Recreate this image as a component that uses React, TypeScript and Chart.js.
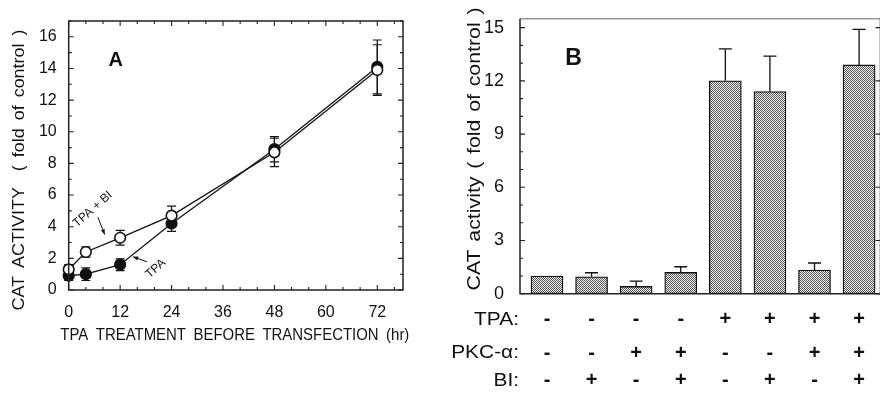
import React, { useEffect, useRef } from 'react';
import { Chart, registerables } from 'chart.js';

Chart.register(...registerables);

// ---------- Panel A data ----------
const hoursA = [0, 4, 12, 24, 48, 72];
const tpaValues = [0.9, 1.0, 1.6, 4.2, 8.9, 14.1];
const tpaErrors = [0.3, 0.4, 0.37, 0.5, 0.8, 1.7];
const tpaBiValues = [1.3, 2.4, 3.3, 4.7, 8.7, 13.9];
const tpaBiErrors = [0.3, 0.32, 0.47, 0.6, 0.9, 1.6];
const xStepA = 12;
const yStepA = 2;

// ---------- Panel B data ----------
const conditionsB = [1, 2, 3, 4, 5, 6, 7, 8];
const tpaRow = ['-', '-', '-', '-', '+', '+', '+', '+'];
const pkcRow = ['-', '-', '+', '+', '-', '-', '+', '+'];
const biRow = ['-', '+', '-', '+', '-', '+', '-', '+'];
const rowLabels = ['TPA:', 'PKC-\u03b1:', 'BI:'];
const catValues = [1.0, 0.95, 0.41, 1.2, 12.0, 11.4, 1.33, 12.9];
const catErrors = [0, 0.23, 0.3, 0.32, 1.8, 2.0, 0.4, 2.0];
const yStepB = 3;

const FONT = "'Liberation Sans', Arial, Helvetica, sans-serif";
const INK = '#111';

// Draw text whose parts are separated by double spaces; widened gaps, then fit to target length.
function drawFit(ctx: CanvasRenderingContext2D, text: string, cx: number, cy: number, target: number, font: string, rotate: boolean, gapFactor = 1.8) {
  ctx.save();
  ctx.font = font;
  ctx.fillStyle = INK;
  ctx.translate(cx, cy);
  if (rotate) ctx.rotate(-Math.PI / 2);
  const parts = text.split('  ');
  const widths = parts.map((p) => ctx.measureText(p).width);
  const gap = ctx.measureText(' ').width * gapFactor;
  const natural = widths.reduce((a, b) => a + b, 0) + gap * (parts.length - 1);
  ctx.scale(target / natural, 1);
  let x = -natural / 2;
  ctx.textBaseline = 'middle';
  ctx.textAlign = 'left';
  parts.forEach((p, i) => {
    ctx.fillText(p, x, 0);
    x += widths[i] + gap;
  });
  ctx.restore();
}

function arrow(ctx: CanvasRenderingContext2D, x1: number, y1: number, x2: number, y2: number) {
  ctx.beginPath();
  ctx.moveTo(x1, y1);
  ctx.lineTo(x2, y2);
  ctx.stroke();
  const a = Math.atan2(y2 - y1, x2 - x1);
  const L = 5.5;
  ctx.beginPath();
  ctx.moveTo(x2, y2);
  ctx.lineTo(x2 - L * Math.cos(a - 0.38), y2 - L * Math.sin(a - 0.38));
  ctx.lineTo(x2 - L * Math.cos(a + 0.38), y2 - L * Math.sin(a + 0.38));
  ctx.closePath();
  ctx.fill();
}

const plugA = {
  id: 'plugA',
  beforeDatasetsDraw(chart: any) {
    const ctx = chart.ctx;
    const xs = chart.scales.x;
    const ys = chart.scales.y;
    ctx.save();
    ctx.strokeStyle = INK;
    ctx.lineWidth = 1.2;
    const series: [number[], number[]][] = [
      [tpaBiValues, tpaBiErrors],
      [tpaValues, tpaErrors],
    ];
    series.forEach(([vals, errs]) => {
      vals.forEach((v, i) => {
        const x = xs.getPixelForValue(hoursA[i]);
        const y1 = ys.getPixelForValue(v + errs[i]);
        const y2 = ys.getPixelForValue(v - errs[i]);
        ctx.beginPath();
        ctx.moveTo(x, y1);
        ctx.lineTo(x, y2);
        ctx.moveTo(x - 4.5, y1);
        ctx.lineTo(x + 4.5, y1);
        ctx.moveTo(x - 4.5, y2);
        ctx.lineTo(x + 4.5, y2);
        ctx.stroke();
      });
    });
    ctx.restore();
  },
  afterDraw(chart: any) {
    const ctx = chart.ctx;
    const { left, right, top, bottom } = chart.chartArea;
    const xs = chart.scales.x;
    const ys = chart.scales.y;
    ctx.save();
    ctx.strokeStyle = '#222';
    ctx.lineWidth = 1.5;
    ctx.strokeRect(left, top, right - left, bottom - top);
    ctx.lineWidth = 1.1;
    ctx.beginPath();
    for (let v = 0; v <= xs.max; v += 4) {
      const x = xs.getPixelForValue(v);
      const len = v % xStepA === 0 ? 5 : 3;
      ctx.moveTo(x, bottom);
      ctx.lineTo(x, bottom - len);
      ctx.moveTo(x, top);
      ctx.lineTo(x, top + len);
    }
    for (let v = 0; v <= ys.max; v += 1) {
      const y = ys.getPixelForValue(v);
      const len = v % yStepA === 0 ? 5 : 3;
      ctx.moveTo(left, y);
      ctx.lineTo(left + len, y);
      ctx.moveTo(right, y);
      ctx.lineTo(right - len, y);
    }
    ctx.stroke();

    // titles
    drawFit(ctx, 'CAT  ACTIVITY    (  fold  of  control  )', 20, 170, 281, `16px ${FONT}`, true, 1.6);
    drawFit(ctx, 'TPA  TREATMENT  BEFORE  TRANSFECTION  (hr)', (left + right) / 2 - 1, 335, 349, `16.5px ${FONT}`, false, 1.8);

    // panel letter
    ctx.fillStyle = INK;
    ctx.font = `bold 20px ${FONT}`;
    ctx.textAlign = 'center';
    ctx.textBaseline = 'middle';
    ctx.fillText('A', left + 47, top + 39);

    // annotations
    ctx.font = `12px ${FONT}`;
    ctx.save();
    ctx.translate(xs.getPixelForValue(5.6), ys.getPixelForValue(5.1));
    ctx.rotate(-0.72);
    ctx.fillText('TPA + BI', 0, 0);
    ctx.restore();
    ctx.save();
    ctx.translate(xs.getPixelForValue(20.3), ys.getPixelForValue(1.35));
    ctx.rotate(-0.72);
    ctx.fillText('TPA', 0, 0);
    ctx.restore();
    ctx.strokeStyle = INK;
    ctx.lineWidth = 1;
    arrow(ctx, xs.getPixelForValue(6.8), ys.getPixelForValue(4.6), xs.getPixelForValue(8.4), ys.getPixelForValue(3.5));
    arrow(ctx, xs.getPixelForValue(18.3), ys.getPixelForValue(1.78), xs.getPixelForValue(15.0), ys.getPixelForValue(2.1));
    ctx.restore();
  },
};

const plugB = {
  id: 'plugB',
  afterDatasetsDraw(chart: any) {
    const ctx = chart.ctx;
    const xs = chart.scales.x;
    const ys = chart.scales.y;
    ctx.save();
    ctx.strokeStyle = INK;
    ctx.lineWidth = 1.3;
    catValues.forEach((v, i) => {
      if (!catErrors[i]) return;
      const x = xs.getPixelForValue(conditionsB[i]);
      const y0 = ys.getPixelForValue(v);
      const y1 = ys.getPixelForValue(v + catErrors[i]);
      ctx.beginPath();
      ctx.moveTo(x, y0);
      ctx.lineTo(x, y1);
      ctx.moveTo(x - 6.5, y1);
      ctx.lineTo(x + 6.5, y1);
      ctx.stroke();
    });
    ctx.restore();
  },
  afterDraw(chart: any) {
    const ctx = chart.ctx;
    const { left, right, top, bottom } = chart.chartArea;
    const xs = chart.scales.x;
    const ys = chart.scales.y;
    ctx.save();
    ctx.strokeStyle = '#666';
    ctx.lineWidth = 1;
    ctx.beginPath();
    ctx.moveTo(left, top);
    ctx.lineTo(right, top);
    ctx.stroke();
    ctx.strokeStyle = '#222';
    ctx.lineWidth = 1.5;
    ctx.beginPath();
    ctx.moveTo(left, top);
    ctx.lineTo(left, bottom);
    ctx.lineTo(right, bottom);
    ctx.moveTo(right, top);
    ctx.lineTo(right, bottom);
    ctx.stroke();
    ctx.lineWidth = 1.1;
    ctx.beginPath();
    for (let v = 0; v <= ys.max; v += 1) {
      const y = ys.getPixelForValue(v);
      const major = v % yStepB === 0;
      ctx.moveTo(left, y);
      ctx.lineTo(left + (major ? 5 : 3), y);
      if (major) {
        ctx.moveTo(right, y);
        ctx.lineTo(right - 5, y);
      }
    }
    ctx.stroke();

    drawFit(ctx, 'CAT  activity  (  fold  of  control  )', 35, 149, 283, `19px ${FONT}`, true, 1.3);

    ctx.fillStyle = INK;
    ctx.font = `bold 23px ${FONT}`;
    ctx.textAlign = 'center';
    ctx.textBaseline = 'middle';
    ctx.fillText('B', left + 53.5, top + 40);

    // condition table
    const rows = [tpaRow, pkcRow, biRow];
    const rowOffsets = [25.6, 59.3, 87];
    rows.forEach((row, r) => {
      const y = bottom + rowOffsets[r];
      ctx.save();
      ctx.font = `19px ${FONT}`;
      ctx.textAlign = 'right';
      ctx.translate(left - 1, y);
      ctx.scale(1.1, 1);
      ctx.fillText(rowLabels[r], 0, 0);
      ctx.restore();
      ctx.font = `bold 20px ${FONT}`;
      ctx.textAlign = 'center';
      row.forEach((s, i) => {
        ctx.fillText(s, xs.getPixelForValue(conditionsB[i]), y);
      });
    });
    ctx.restore();
  },
};

export default function App() {
  const refA = useRef<HTMLCanvasElement>(null);
  const refB = useRef<HTMLCanvasElement>(null);

  useEffect(() => {
    const tickFont = (size: number) => ({ family: FONT, size });
    const chartA = new Chart(refA.current as HTMLCanvasElement, {
      type: 'line',
      data: {
        datasets: [
          {
            label: 'TPA + BI',
            data: hoursA.map((h, i) => ({ x: h, y: tpaBiValues[i] })),
            borderColor: INK,
            borderWidth: 1.3,
            pointRadius: 5.3,
            pointBackgroundColor: '#fff',
            pointBorderColor: INK,
            pointBorderWidth: 1.6,
            tension: 0,
            fill: false,
            clip: false as any,
          },
          {
            label: 'TPA',
            data: hoursA.map((h, i) => ({ x: h, y: tpaValues[i] })),
            borderColor: INK,
            borderWidth: 1.3,
            pointRadius: 5.3,
            pointBackgroundColor: INK,
            pointBorderColor: INK,
            pointBorderWidth: 1.6,
            tension: 0,
            fill: false,
            clip: false as any,
          },
        ],
      },
      options: {
        animation: false,
        responsive: false,
        events: [],
        layout: { padding: { left: 0, top: 21, right: 37, bottom: 0 } },
        plugins: { legend: { display: false }, tooltip: { enabled: false } },
        scales: {
          x: {
            type: 'linear',
            min: 0,
            max: 78,
            grid: { display: false },
            border: { display: false },
            ticks: {
              stepSize: xStepA,
              includeBounds: false,
              padding: 5,
              color: INK,
              font: tickFont(16),
              maxRotation: 0,
              autoSkip: false,
              callback: (v: any) => (Number(v) % xStepA === 0 ? String(v) : ''),
            } as any,
            afterFit: (s: any) => {
              s.height = 105;
            },
          },
          y: {
            type: 'linear',
            min: 0,
            max: 17,
            grid: { display: false },
            border: { display: false },
            ticks: {
              stepSize: yStepA,
              includeBounds: false,
              padding: 4,
              color: INK,
              font: tickFont(16),
              callback: (v: any) => (Number(v) % yStepA === 0 ? String(v) : ''),
            } as any,
            afterFit: (s: any) => {
              s.width = 68.7;
            },
          },
        },
      },
      plugins: [plugA],
    });

    const pc = document.createElement('canvas');
    pc.width = 2;
    pc.height = 2;
    const p = pc.getContext('2d') as CanvasRenderingContext2D;
    p.fillStyle = '#f2f2f2';
    p.fillRect(0, 0, 2, 2);
    p.fillStyle = '#555';
    p.fillRect(0, 0, 1, 1);
    p.fillRect(1, 1, 1, 1);
    const ctxB = (refB.current as HTMLCanvasElement).getContext('2d') as CanvasRenderingContext2D;
    const pattern = ctxB.createPattern(pc, 'repeat');

    const chartB = new Chart(refB.current as HTMLCanvasElement, {
      type: 'bar',
      data: {
        datasets: [
          {
            label: 'CAT activity',
            data: conditionsB.map((c, i) => ({ x: c, y: catValues[i] })),
            backgroundColor: pattern as any,
            borderColor: INK,
            borderWidth: 1.3,
            borderSkipped: false,
            barThickness: 32,
          },
        ],
      },
      options: {
        animation: false,
        responsive: false,
        events: [],
        layout: { padding: { left: 0, top: 17.3, right: 4.5, bottom: 0 } },
        plugins: { legend: { display: false }, tooltip: { enabled: false } },
        scales: {
          x: {
            type: 'linear',
            min: 0.395,
            max: 8.48,
            offset: false,
            grid: { display: false },
            border: { display: false },
            ticks: { display: false },
            afterFit: (s: any) => {
              s.height = 101.3;
            },
          },
          y: {
            type: 'linear',
            min: 0,
            max: 15.5,
            grid: { display: false },
            border: { display: false },
            ticks: {
              stepSize: yStepB,
              includeBounds: false,
              padding: 8,
              color: INK,
              font: tickFont(18),
              callback: (v: any) => (Number(v) % yStepB === 0 ? String(v) : ''),
            } as any,
            afterFit: (s: any) => {
              s.width = 80;
            },
          },
        },
      },
      plugins: [plugB],
    });

    return () => {
      chartA.destroy();
      chartB.destroy();
    };
  }, []);

  return (
    <div style={{ position: 'fixed', left: 0, top: 0, width: 880, height: 395, overflow: 'hidden', background: '#fff' }}>
      <canvas ref={refA} width={440} height={395} style={{ position: 'absolute', left: 0, top: 0, width: 440, height: 395 }} />
      <canvas ref={refB} width={445} height={395} style={{ position: 'absolute', left: 440, top: 0, width: 445, height: 395 }} />
    </div>
  );
}
